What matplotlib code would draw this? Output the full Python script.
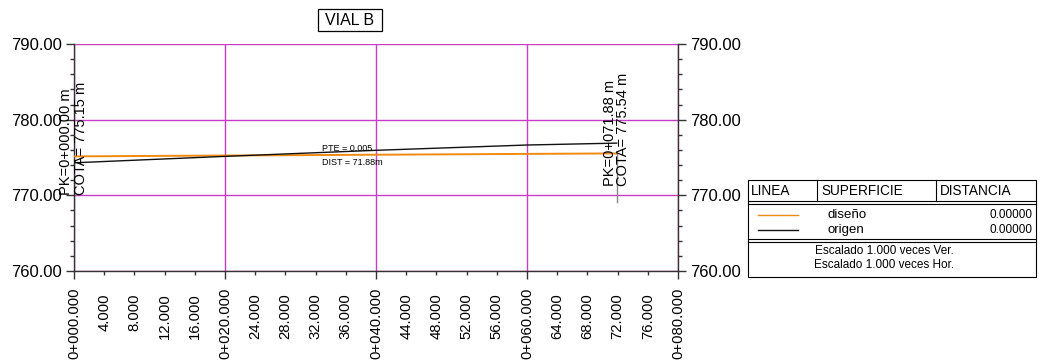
import matplotlib
matplotlib.use("Agg")
import matplotlib.pyplot as plt
from matplotlib.ticker import MultipleLocator, FixedLocator
from matplotlib.patches import Rectangle

plt.rcParams['font.family'] = ['Liberation Sans', 'DejaVu Sans']

# ---- data ----
title = "VIAL B"
design_x = [0.0, 71.88]
design_y = [775.15, 775.54]
origin_x = [0.0, 20.0, 40.0, 60.0, 71.88]
origin_y = [774.3, 775.15, 775.95, 776.65, 776.9]
x_major = [0, 20, 40, 60, 80]
x_major_labels = ["0+000.000", "0+020.000", "0+040.000", "0+060.000", "0+080.000"]
x_minor = [4, 8, 12, 16, 24, 28, 32, 36, 44, 48, 52, 56, 64, 68, 72, 76]
x_minor_labels = ["4.000", "8.000", "12.000", "16.000", "24.000", "28.000", "32.000", "36.000",
                  "44.000", "48.000", "52.000", "56.000", "64.000", "68.000", "72.000", "76.000"]
y_major = [760, 770, 780, 790]
y_labels = ["760.00", "770.00", "780.00", "790.00"]
start_pk = "PK=0+000.00 m"
start_cota = "COTA= 775.15 m"
end_pk = "PK=0+071.88 m"
end_cota = "COTA= 775.54 m"
end_station = 71.88
end_elev = 775.54
pte_text = "PTE = 0.005"
dist_text = "DIST = 71.88m"
legend_headers = ["LINEA", "SUPERFICIE", "DISTANCIA"]
legend_names = ["diseño", "origen"]
legend_values = ["0.00000", "0.00000"]
scale_notes = ["Escalado 1.000 veces Ver.", "Escalado 1.000 veces Hor."]

c_design = '#f08a10'
c_origin = '#111111'
c_grid = '#c83cc8'
c_spine = '#333333'

W, H = 1040, 360
fig = plt.figure(figsize=(W / 100, H / 100), dpi=100)

ax = fig.add_axes([74 / W, 1 - 271 / H, (678 - 74) / W, (271 - 44) / H])
ax.set_xlim(0, 80)
ax.set_ylim(760, 790)

ax.plot(design_x, design_y, color=c_design, lw=1.4, zorder=3)
ax.plot(origin_x, origin_y, color=c_origin, lw=1.0, zorder=3)
ax.plot([end_station, end_station], [end_elev, 769.1], color='#888888', lw=1.0, zorder=2)

# ticks
ax.xaxis.set_major_locator(FixedLocator(x_major))
ax.set_xticklabels(x_major_labels)
ax.set_xticks(x_minor, minor=True)
ax.set_xticklabels(x_minor_labels, minor=True)
ax.set_yticks(y_major)
ax.set_yticklabels(y_labels)
ax.yaxis.set_minor_locator(MultipleLocator(2))

ax.tick_params(axis='x', which='major', direction='out', length=6, width=1, color=c_spine,
               labelsize=10.7, labelrotation=90, pad=6)
ax.tick_params(axis='x', which='minor', direction='out', length=3, width=1, color=c_spine,
               labelsize=10.7, labelrotation=90, pad=13)
ax.tick_params(axis='y', which='major', direction='out', length=6, width=1, color=c_spine,
               labelsize=12, pad=3, left=True, right=True, labelleft=True, labelright=True)
ax.tick_params(axis='y', which='minor', direction='out', length=3, width=1, color=c_spine,
               left=True, right=True)
for lab in ax.get_xticklabels(which='both'):
    lab.set_va('top')

ax.grid(True, which='major', color=c_grid, lw=1.0)
ax.set_axisbelow(True)
for s in ['left', 'right', 'bottom']:
    ax.spines[s].set_color(c_spine)
    ax.spines[s].set_linewidth(1.0)
ax.spines['top'].set_visible(False)
ax.axhline(790, color=c_grid, lw=1.2, zorder=1)

# annotations
ax.text(-1.1, 770.05, start_pk, rotation=90, ha='center', va='bottom', fontsize=10.5)
ax.text(0.95, 770.05, start_cota, rotation=90, ha='center', va='bottom', fontsize=10.5)
ax.text(71.0, 771.2, end_pk, rotation=90, ha='center', va='bottom', fontsize=10.5)
ax.text(72.75, 771.2, end_cota, rotation=90, ha='center', va='bottom', fontsize=10.5)
ax.text(32.8, 775.9, pte_text, fontsize=6.5, ha='left', va='baseline')
ax.text(32.8, 774.0, dist_text, fontsize=6.5, ha='left', va='baseline')

# overlay in pixel coordinates for title box and legend table
ov = fig.add_axes([0, 0, 1, 1], zorder=5)
ov.set_xlim(0, W)
ov.set_ylim(H, 0)
ov.axis('off')
ov.patch.set_alpha(0)

ov.add_patch(Rectangle((318, 9), 64, 22, fill=False, ec='black', lw=0.9))
ov.text(350, 20.5, title, ha='center', va='center', fontsize=11.5)

lw = 0.8
ov.add_patch(Rectangle((748, 180), 288, 97, fill=False, ec='black', lw=lw))
for yy in [201, 203.5, 239, 241.5]:
    ov.plot([748, 1036], [yy, yy], color='black', lw=lw)
for xx in [817, 936]:
    ov.plot([xx, xx], [180, 201], color='black', lw=lw)
hx = [751, 821, 940]
for x0, t in zip(hx, legend_headers):
    ov.text(x0, 191, t, ha='left', va='center', fontsize=9.8)
row_y = [215, 230]
for yy, name, val, col in zip(row_y, legend_names, legend_values, [c_design, c_origin]):
    ov.plot([758, 798], [yy, yy], color=col, lw=1.0)
    ov.text(827, yy, name, ha='left', va='center', fontsize=9.5)
    ov.text(1033, yy, val, ha='right', va='center', fontsize=8.5)
for yy, t in zip([251, 265.5], scale_notes):
    ov.text(884, yy, t, ha='center', va='center', fontsize=8.5)

fig.savefig("out.png", dpi=100)
